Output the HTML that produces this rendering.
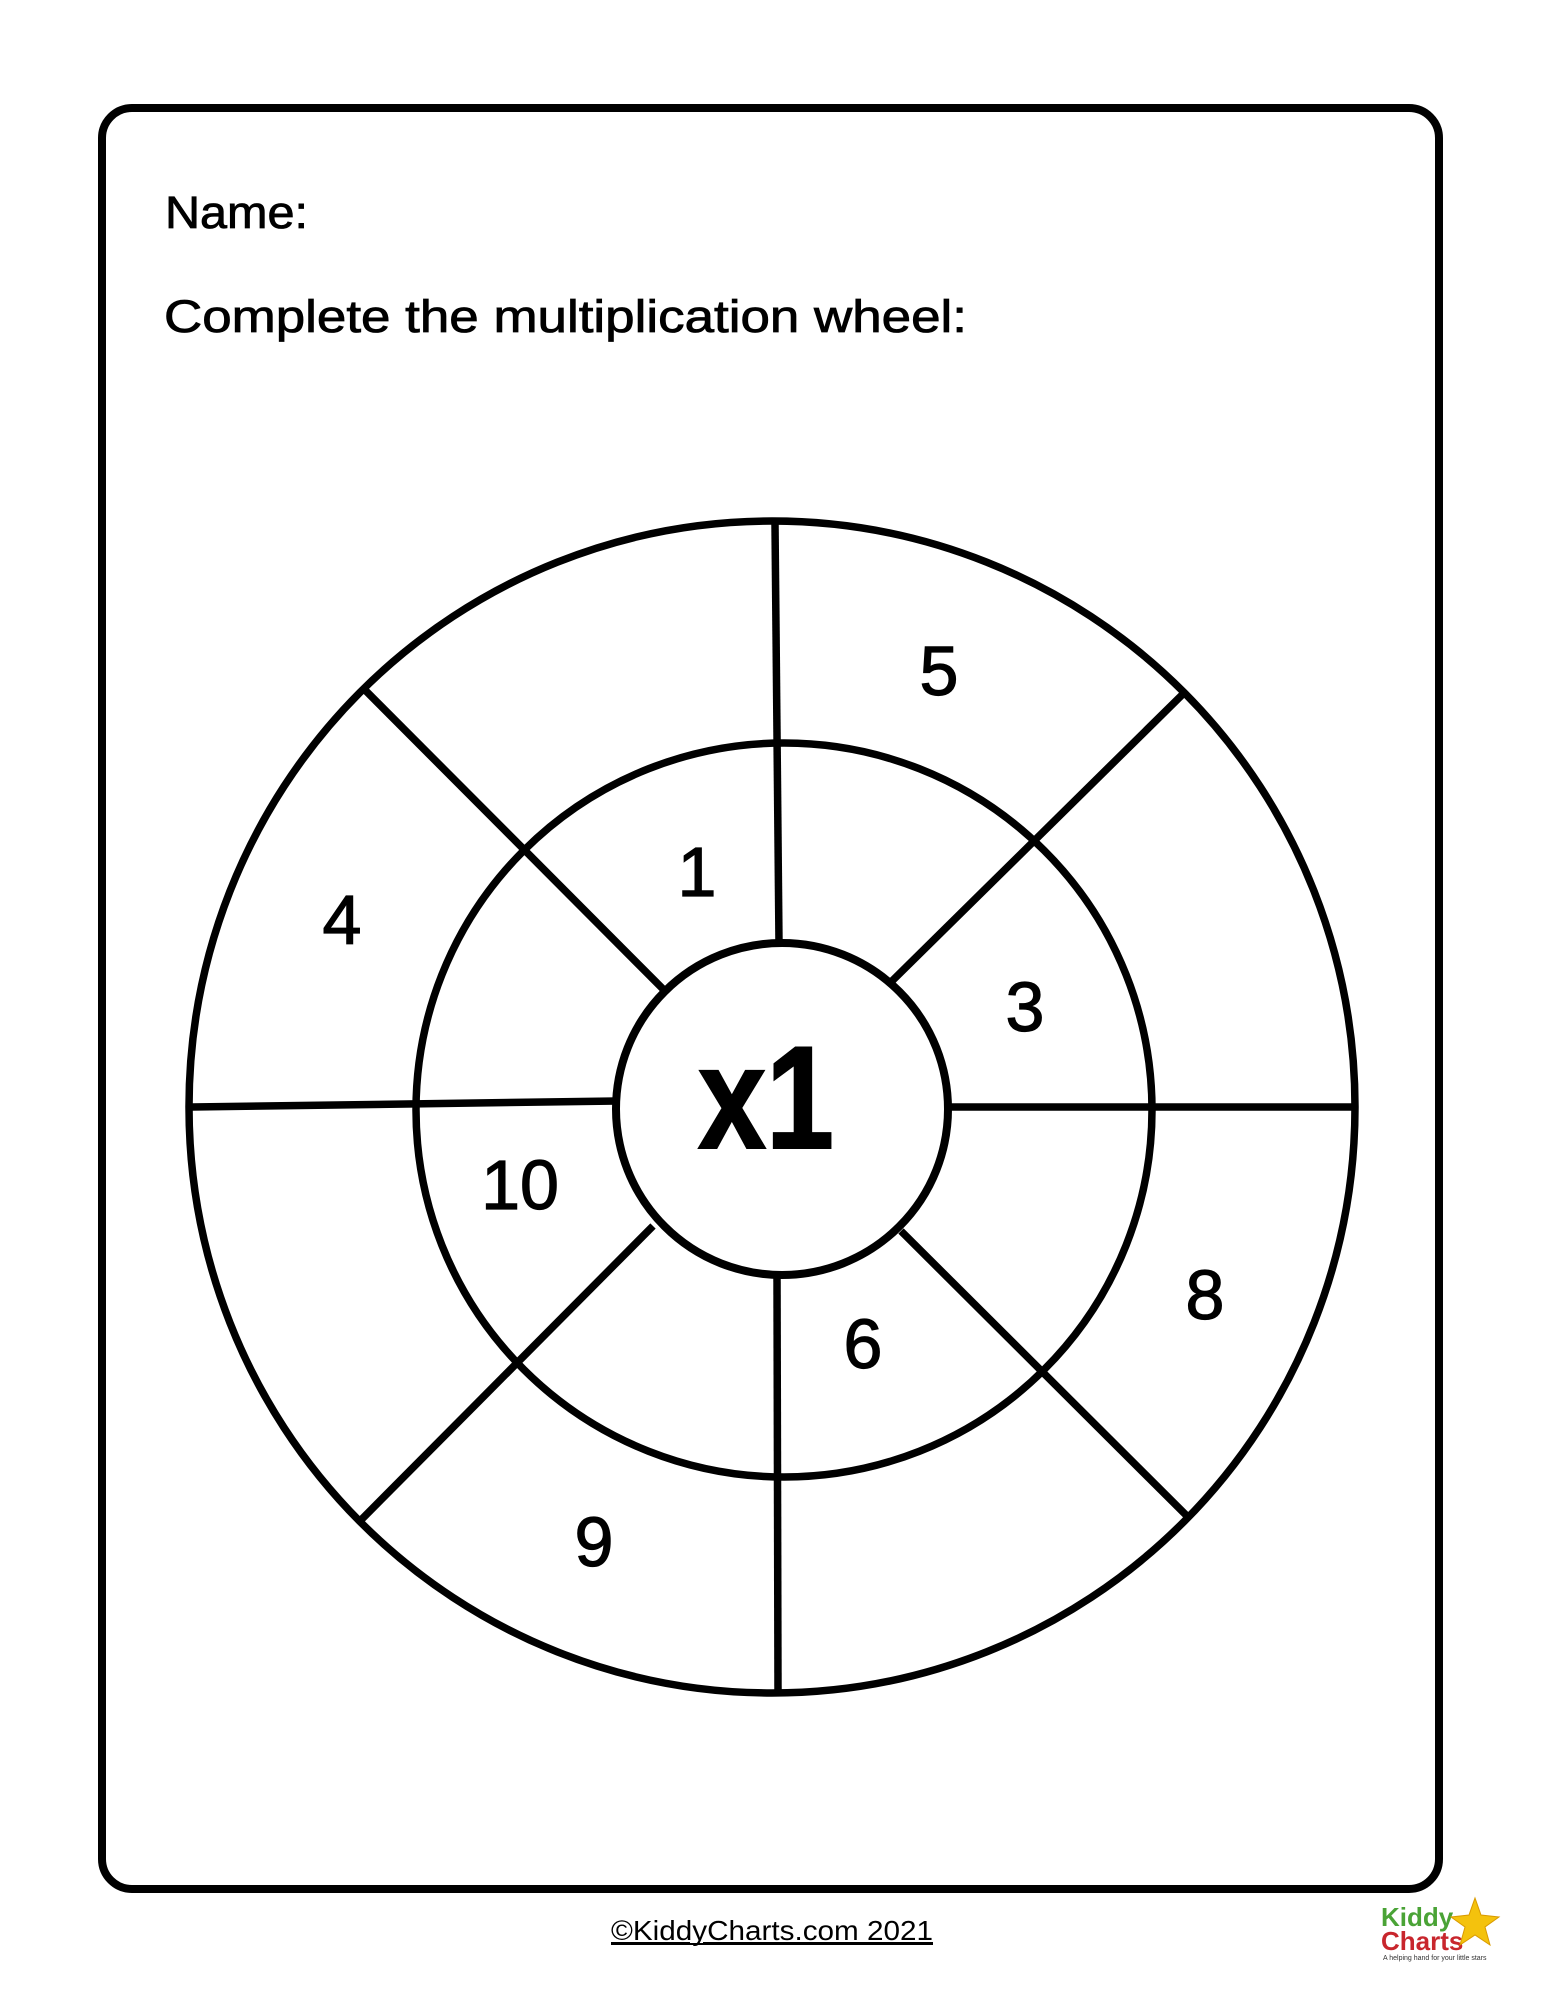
<!DOCTYPE html>
<html><head><meta charset="utf-8"><style>
html,body{margin:0;padding:0;background:#fff;}
svg{display:block;}
</style></head><body>
<svg width="1545" height="2000" viewBox="0 0 1545 2000" xmlns="http://www.w3.org/2000/svg" font-family="Liberation Sans, sans-serif">
<rect x="102" y="108" width="1337" height="1781" rx="30" ry="30" fill="none" stroke="#000" stroke-width="8"/>
<text x="165" y="228" font-size="45" textLength="143" lengthAdjust="spacingAndGlyphs" stroke="#000" stroke-width="0.8">Name:</text>
<text x="164" y="332" font-size="45" textLength="803" lengthAdjust="spacingAndGlyphs" stroke="#000" stroke-width="0.8">Complete the multiplication wheel:</text>
<g fill="none" stroke="#000" stroke-width="7.5">
<ellipse cx="772" cy="1107" rx="583" ry="586"/>
<ellipse cx="784" cy="1110" rx="368" ry="367"/>
<circle cx="782" cy="1109" r="166" stroke-width="8"/>
<line x1="775" y1="524" x2="779" y2="943"/>
<line x1="777" y1="1275" x2="778" y2="1691"/>
<line x1="192" y1="1107" x2="617" y2="1101"/>
<line x1="947" y1="1107" x2="1354" y2="1107"/>
<line x1="366" y1="691" x2="664" y2="990"/>
<line x1="1184" y1="693" x2="890" y2="983"/>
<line x1="361" y1="1520" x2="653" y2="1226"/>
<line x1="1188" y1="1517" x2="901" y2="1231"/>
</g>
<text x="698" y="1148" font-size="146" font-weight="bold" textLength="136" lengthAdjust="spacingAndGlyphs" stroke="#000" stroke-width="2">x1</text>
<g font-size="70" text-anchor="middle" stroke="#000" stroke-width="1.2">
<text x="939" y="695">5</text>
<text x="697" y="896">1</text>
<text x="342" y="944">4</text>
<text x="1025" y="1031">3</text>
<text x="520" y="1209">10</text>
<text x="1205" y="1319">8</text>
<text x="863" y="1368">6</text>
<text x="594" y="1566">9</text>
</g>
<text x="611" y="1940" font-size="28" textLength="322" lengthAdjust="spacingAndGlyphs" text-decoration="underline">©KiddyCharts.com 2021</text>
<line x1="611" y1="1944" x2="933" y2="1944" stroke="#000" stroke-width="2"/>
<text x="1381" y="1926" font-size="26" font-weight="bold" fill="#4aa336">Kiddy</text>
<text x="1381" y="1950" font-size="26" font-weight="bold" fill="#c8262d">Charts</text>
<polygon points="1475,1898 1481,1915 1499,1917 1485,1927 1490,1945 1475,1935 1460,1945 1465,1927 1451,1917 1469,1915" fill="#f4c20d" stroke="#d99a00" stroke-width="1"/>
<text x="1383" y="1960" font-size="7" fill="#333">A helping hand for your little stars</text>
</svg>
</body></html>
